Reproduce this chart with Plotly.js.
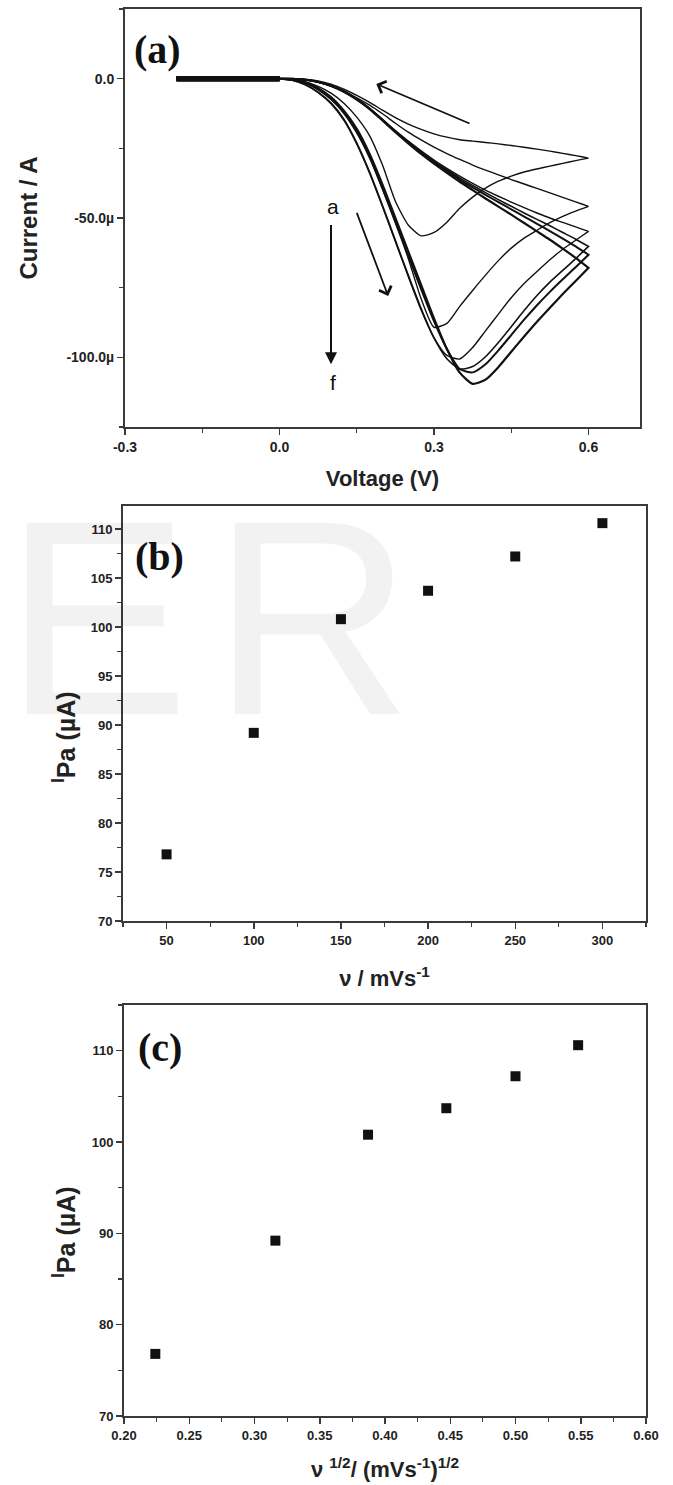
<!DOCTYPE html>
<html><head><meta charset="utf-8">
<script src="https://cdn.plot.ly/plotly-3.0.1.min.js"></script>
<style>html,body{margin:0;padding:0;background:#fff}</style>
</head><body><div id="chart" style="width:673px;height:1485px"></div>
<script>
// ---------- Panel (a): cyclic voltammograms a–f (current in µA) ----------
const voltageForward = [-0.2,-0.175,-0.15,-0.125,-0.1,-0.075,-0.05,-0.025,0,0.025,0.05,0.075,0.1,0.125,0.15,0.175,0.2,0.225,0.25,0.275,0.3,0.325,0.35,0.375,0.4,0.425,0.45,0.475,0.5,0.525,0.55,0.575,0.6];
const voltageReverse = [0.6,0.575,0.55,0.525,0.5,0.475,0.45,0.425,0.4,0.375,0.35,0.325,0.3,0.275,0.25,0.225,0.2,0.175,0.15,0.125,0.1,0.075,0.05,0.025,0,-0.025,-0.05,-0.075,-0.1,-0.125,-0.15,-0.175,-0.2];
const curveLabels = ['a','b','c','d','e','f'];

const forward_a = [0,0,0,0,0,0,0,0,0,-0.3,-1.1,-2.8,-5.2,-8.8,-13.8,-20.5,-31,-44,-52.5,-56.4,-55.2,-51.5,-46.5,-42.5,-39.3,-36.8,-35.0,-33.5,-32.4,-31.4,-30.4,-29.4,-28.5];
const forward_b = [0,0,0,0,0,0,0,0,0,-0.4,-1.6,-4,-7.5,-12.5,-19.5,-28.5,-39.5,-51.5,-64.5,-79,-89.2,-87.8,-81.7,-76,-70.5,-65.3,-60.8,-57.2,-54.4,-51.7,-49.4,-47.5,-45.8];
const forward_c = [0,0,0,0,0,0,0,0,0,-0.6,-2.2,-5,-9,-15,-23.5,-34,-46,-58.5,-71,-83,-93,-99.3,-100.6,-96.5,-90.5,-84.5,-78.6,-73.5,-69.2,-65,-61.2,-58,-54.8];
const forward_d = [0,0,0,0,0,0,0,0,0,-0.6,-2.1,-4.8,-8.7,-14.5,-23,-33.5,-45.5,-58,-70.5,-82.5,-93,-100.5,-104.2,-103.3,-99.8,-94.7,-89,-83.2,-77.8,-73,-68.8,-64.6,-60.2];
const forward_e = [0,0,0,0,0,0,0,0,0,-0.4,-1.5,-3.6,-7,-12,-19,-28,-39.5,-51.5,-63.5,-75.5,-87,-97,-104.2,-105.4,-102.5,-97.5,-92,-86.5,-81.3,-76.5,-72,-67.7,-63.2];
const forward_f = [0,0,0,0,0,0,0,0,0,-0.4,-1.4,-3.4,-6.6,-11.5,-18,-27,-38,-50,-62,-74,-86,-97,-105.5,-109.5,-108,-103.5,-98,-92.5,-87.2,-82.2,-77.3,-72.6,-67.9];

const reverse_a = [-28.5,-27.6,-26.8,-26.0,-25.3,-24.6,-24.0,-23.4,-22.9,-22.4,-21.9,-21.0,-19.8,-18.2,-16.3,-14.0,-11.3,-8.5,-6.0,-3.8,-2.0,-0.8,-0.2,0,0,0,0,0,0,0,0,0,0];
const reverse_b = [-45.8,-44.2,-42.6,-41.0,-39.4,-37.8,-36.2,-34.5,-32.8,-31.0,-29.0,-26.9,-24.6,-22.0,-19.2,-16.0,-12.6,-9.5,-6.9,-4.5,-2.6,-1.2,-0.4,0,0,0,0,0,0,0,0,0,0];
const reverse_c = [-54.8,-53.2,-51.6,-50.0,-48.2,-46.3,-44.3,-42.2,-40.0,-37.6,-35.0,-32.2,-29.2,-25.9,-22.4,-18.6,-14.6,-10.6,-7.3,-4.6,-2.6,-1.2,-0.4,-0.05,0,0,0,0,0,0,0,0,0];
const reverse_d = [-60.2,-57.6,-55.2,-52.8,-50.5,-48.2,-45.8,-43.4,-40.9,-38.3,-35.6,-32.7,-29.6,-26.2,-22.6,-18.8,-14.7,-10.7,-7.3,-4.6,-2.6,-1.2,-0.4,-0.05,0,0,0,0,0,0,0,0,0];
const reverse_e = [-63.2,-60.2,-57.4,-54.7,-52.1,-49.5,-46.9,-44.3,-41.7,-39.0,-36.2,-33.2,-30.0,-26.5,-22.8,-19.0,-14.8,-10.8,-7.4,-4.6,-2.6,-1.2,-0.4,-0.05,0,0,0,0,0,0,0,0,0];
const reverse_f = [-67.9,-64.3,-61.0,-57.8,-54.8,-51.8,-48.8,-45.9,-43.0,-40.0,-37.0,-33.8,-30.5,-27.0,-23.2,-19.2,-15.0,-10.9,-7.5,-4.7,-2.6,-1.2,-0.4,-0.05,0,0,0,0,0,0,0,0,0];

const axisTicksA_x = [-0.3, 0.0, 0.3, 0.6];
const axisTickTextA_x = ['-0.3', '0.0', '0.3', '0.6'];
const axisTicksA_y = [0, -50, -100];
const axisTickTextA_y = ['0.0', '-50.0\u00b5', '-100.0\u00b5'];

// ---------- Panels (b) and (c): peak current ----------
const scanRates = [50, 100, 150, 200, 250, 300];
const sqrtScanRates = [0.224, 0.316, 0.387, 0.447, 0.500, 0.548];
const peakCurrents = [76.8, 89.2, 100.8, 103.7, 107.2, 110.6];

// ---------- build ----------
const forwardSets = [forward_a, forward_b, forward_c, forward_d, forward_e, forward_f];
const reverseSets = [reverse_a, reverse_b, reverse_c, reverse_d, reverse_e, reverse_f];
const lineWidths = [1.4, 1.4, 1.4, 1.6, 2.0, 2.2];
const INK = '#111';

const traces = [];
curveLabels.forEach((lab, i) => {
  traces.push({
    name: 'curve ' + lab,
    x: voltageForward.concat(voltageReverse),
    y: forwardSets[i].concat(reverseSets[i]),
    xaxis: 'x', yaxis: 'y', mode: 'lines',
    line: {color: INK, width: lineWidths[i], shape: 'spline', smoothing: 0.6},
    hoverinfo: 'skip'
  });
  const fx = [], fy = [];
  voltageForward.forEach((v, k) => { if (v <= 0) { fx.push(v); fy.push(forwardSets[i][k]); } });
  traces.push({x: fx, y: fy, xaxis: 'x', yaxis: 'y', mode: 'lines',
    line: {color: INK, width: 5}, hoverinfo: 'skip'});
});

traces.push({x: scanRates, y: peakCurrents, xaxis: 'x2', yaxis: 'y2', mode: 'markers',
  marker: {symbol: 'square', size: 10, color: INK}});
traces.push({x: sqrtScanRates, y: peakCurrents, xaxis: 'x3', yaxis: 'y3', mode: 'markers',
  marker: {symbol: 'square', size: 10, color: INK}});

const FONT = 'Liberation Sans, Arial, sans-serif';
const SERIF = 'Liberation Serif, Times New Roman, serif';
const tickFontA = {family: FONT, size: 14, color: '#222', weight: 'bold'};
const tickFontB = {family: FONT, size: 13, color: '#222', weight: 'bold'};
const xTitleFont = {family: FONT, size: 22, color: '#222', weight: 'bold'};
const yTitleFont = {family: FONT, size: 24, color: '#222', weight: 'bold'};
const ipaFont = {family: FONT, size: 25, color: '#222', weight: 'bold'};
const common = {showline: true, mirror: true, linewidth: 2, linecolor: '#3a3a3a',
  ticks: 'outside', ticklen: 6, tickwidth: 1.5, tickcolor: '#3a3a3a',
  showgrid: false, zeroline: false, fixedrange: true};
const minorStyle = {ticks: 'outside', ticklen: 4, tickwidth: 1.2, tickcolor: '#3a3a3a'};
const IPA = '<sup>I</sup>Pa (\u00b5A)';

const layout = {
  width: 673, height: 1485, margin: {l: 0, r: 0, t: 0, b: 0},
  paper_bgcolor: '#fff', plot_bgcolor: '#fff', showlegend: false,
  xaxis: Object.assign({}, common, {domain: [125/673, 640/673], anchor: 'y', range: [-0.3, 0.7],
    tickmode: 'array', tickvals: axisTicksA_x, ticktext: axisTickTextA_x, tickfont: tickFontA,
    minor: Object.assign({tickmode: 'linear', tick0: -0.3, dtick: 0.15}, minorStyle),
    title: {text: 'Voltage (V)', font: xTitleFont, standoff: 17}}),
  yaxis: Object.assign({}, common, {domain: [1 - 427/1485, 1 - 9/1485], anchor: 'x', range: [-125, 25],
    tickmode: 'array', tickvals: axisTicksA_y, ticktext: axisTickTextA_y, tickfont: tickFontA,
    minor: Object.assign({tickmode: 'linear', tick0: 0, dtick: 25}, minorStyle),
    title: {text: 'Current / A', font: yTitleFont, standoff: 22}}),
  xaxis2: Object.assign({}, common, {domain: [123/673, 646/673], anchor: 'y2', range: [25, 325],
    tick0: 50, dtick: 50, tickfont: tickFontB,
    minor: Object.assign({dtick: 25}, minorStyle),
    title: {text: '\u03bd / mVs<sup>-1</sup>', font: xTitleFont, standoff: 24}}),
  yaxis2: Object.assign({}, common, {domain: [1 - 921/1485, 1 - 506/1485], anchor: 'x2', range: [70, 112.35],
    tick0: 70, dtick: 5, tickfont: tickFontB,
    minor: Object.assign({dtick: 2.5}, minorStyle)}),
  xaxis3: Object.assign({}, common, {domain: [124/673, 646/673], anchor: 'y3', range: [0.2, 0.6],
    tick0: 0.2, dtick: 0.05, tickformat: '.2f', tickfont: tickFontB,
    minor: Object.assign({dtick: 0.025}, minorStyle),
    title: {text: '\u03bd <sup>1/2</sup>/ (mVs<sup>-1</sup>)<sup>1/2</sup>', font: xTitleFont, standoff: 20}}),
  yaxis3: Object.assign({}, common, {domain: [1 - 1416/1485, 1 - 1005/1485], anchor: 'x3', range: [70, 115],
    tick0: 70, dtick: 10, tickfont: tickFontB,
    minor: Object.assign({dtick: 5}, minorStyle)}),
  annotations: [
    {xref: 'paper', yref: 'paper', x: 2/673, y: 1 - 617/1485, xanchor: 'left', yanchor: 'middle',
      text: 'E', showarrow: false, font: {family: FONT, size: 278, color: 'rgba(0,0,0,0.05)'}},
    {xref: 'paper', yref: 'paper', x: 312/673, y: 1 - 617/1485, xanchor: 'center', yanchor: 'middle',
      text: 'R', showarrow: false, font: {family: FONT, size: 278, color: 'rgba(0,0,0,0.05)'}},
    {xref: 'paper', yref: 'paper', x: 64/673, y: 1 - 737/1485, xanchor: 'center', yanchor: 'middle',
      text: IPA, textangle: -90, showarrow: false, font: ipaFont},
    {xref: 'paper', yref: 'paper', x: 64/673, y: 1 - 1232/1485, xanchor: 'center', yanchor: 'middle',
      text: IPA, textangle: -90, showarrow: false, font: ipaFont},
    {xref: 'paper', yref: 'paper', x: 157/673, y: 1 - 49/1485, xanchor: 'center', yanchor: 'middle',
      text: '(a)', showarrow: false, font: {family: SERIF, size: 40, color: '#111', weight: 'bold'}},
    {xref: 'paper', yref: 'paper', x: 159/673, y: 1 - 556/1485, xanchor: 'center', yanchor: 'middle',
      text: '(b)', showarrow: false, font: {family: SERIF, size: 40, color: '#111', weight: 'bold'}},
    {xref: 'paper', yref: 'paper', x: 160/673, y: 1 - 1047/1485, xanchor: 'center', yanchor: 'middle',
      text: '(c)', showarrow: false, font: {family: SERIF, size: 40, color: '#111', weight: 'bold'}},
    {xref: 'x', yref: 'y', x: 0.103, y: -46, xanchor: 'center', yanchor: 'middle', text: 'a', showarrow: false,
      font: {family: FONT, size: 21, color: '#111'}},
    {xref: 'x', yref: 'y', x: 0.103, y: -109, xanchor: 'center', yanchor: 'middle', text: 'f', showarrow: false,
      font: {family: FONT, size: 21, color: '#111'}},
    {xref: 'x', yref: 'y', axref: 'x', ayref: 'y', x: 0.1, y: -102.5, ax: 0.1, ay: -52,
      text: '', showarrow: true, arrowhead: 2, arrowsize: 1.2, arrowwidth: 2, arrowcolor: '#111'},
    {xref: 'x', yref: 'y', axref: 'x', ayref: 'y', x: 0.211, y: -78, ax: 0.149, ay: -47.6,
      text: '', showarrow: true, arrowhead: 4, arrowsize: 1.4, arrowwidth: 1.8, arrowcolor: '#111'},
    {xref: 'x', yref: 'y', axref: 'x', ayref: 'y', x: 0.188, y: -1.9, ax: 0.372, ay: -16.3,
      text: '', showarrow: true, arrowhead: 4, arrowsize: 1.4, arrowwidth: 1.8, arrowcolor: '#111'}
  ]
};

Plotly.newPlot('chart', traces, layout, {displayModeBar: false, staticPlot: true});
</script></body></html>
